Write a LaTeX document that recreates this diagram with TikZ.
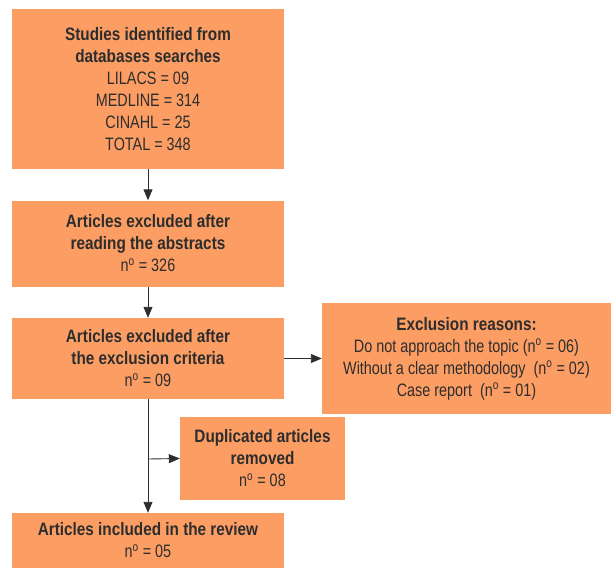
\documentclass[tikz,border=0pt]{standalone}
\usepackage{fontspec}
\setmainfont{Liberation Sans}[FakeStretch=0.8, BoldFeatures={FakeStretch=0.85}]
\usetikzlibrary{arrows.meta}
\definecolor{boxfill}{RGB}{252,158,100}
\definecolor{ink}{RGB}{45,45,45}
\begin{document}
\begin{tikzpicture}[x=1pt,y=-1pt,
  box/.style={rectangle, fill=boxfill, draw=none, align=center, text=ink,
    font=\fontsize{18}{22}\selectfont, inner sep=0pt},
  conn/.style={draw=ink, line width=0.9pt, -{Triangle[length=11pt,width=9pt]}},
  plain/.style={draw=ink, line width=0.9pt}]
\useasboundingbox (0,0) rectangle (611,568);
\node[box, minimum width=272pt, minimum height=160pt] (b1) at (148,89)
  {\textbf{Studies identified from}\\\textbf{databases searches}\\LILACS = 09\\MEDLINE = 314\\CINAHL = 25\\TOTAL = 348};
\node[box, minimum width=272pt, minimum height=86pt] (b2) at (148,243.5)
  {\textbf{Articles excluded after}\\\textbf{reading the abstracts}\\n\textsuperscript{o} = 326};
\node[box, minimum width=272pt, minimum height=81pt] (b3) at (148,358.5)
  {\textbf{Articles excluded after}\\\textbf{the exclusion criteria}\\n\textsuperscript{o} = 09};
\node[box, minimum width=289pt, minimum height=111pt] (ex) at (466.5,358.5)
  {\textbf{Exclusion reasons:}\\Do not approach the topic (n\textsuperscript{o} = 06)\\Without a clear methodology\ \ (n\textsuperscript{o} = 02)\\Case report\ \ (n\textsuperscript{o} = 01)};
\node[box, minimum width=165pt, minimum height=83pt] (dup) at (262.5,458.5)
  {\textbf{Duplicated articles}\\\textbf{removed}\\n\textsuperscript{o} = 08};
\node[box, minimum width=272pt, minimum height=55pt] (fin) at (148,540.5)
  {\textbf{Articles included in the review}\\n\textsuperscript{o} = 05};
\coordinate (br) at (148,459);
\draw[conn] (b1.south) -- (b2.north);
\draw[conn] (b2.south) -- (b3.north);
\draw[conn] (b3.south) -- (fin.north);
\draw[conn] (b3.east) -- (ex.west);
\draw[conn] (br) -- (dup.west);
\end{tikzpicture}
\end{document}
